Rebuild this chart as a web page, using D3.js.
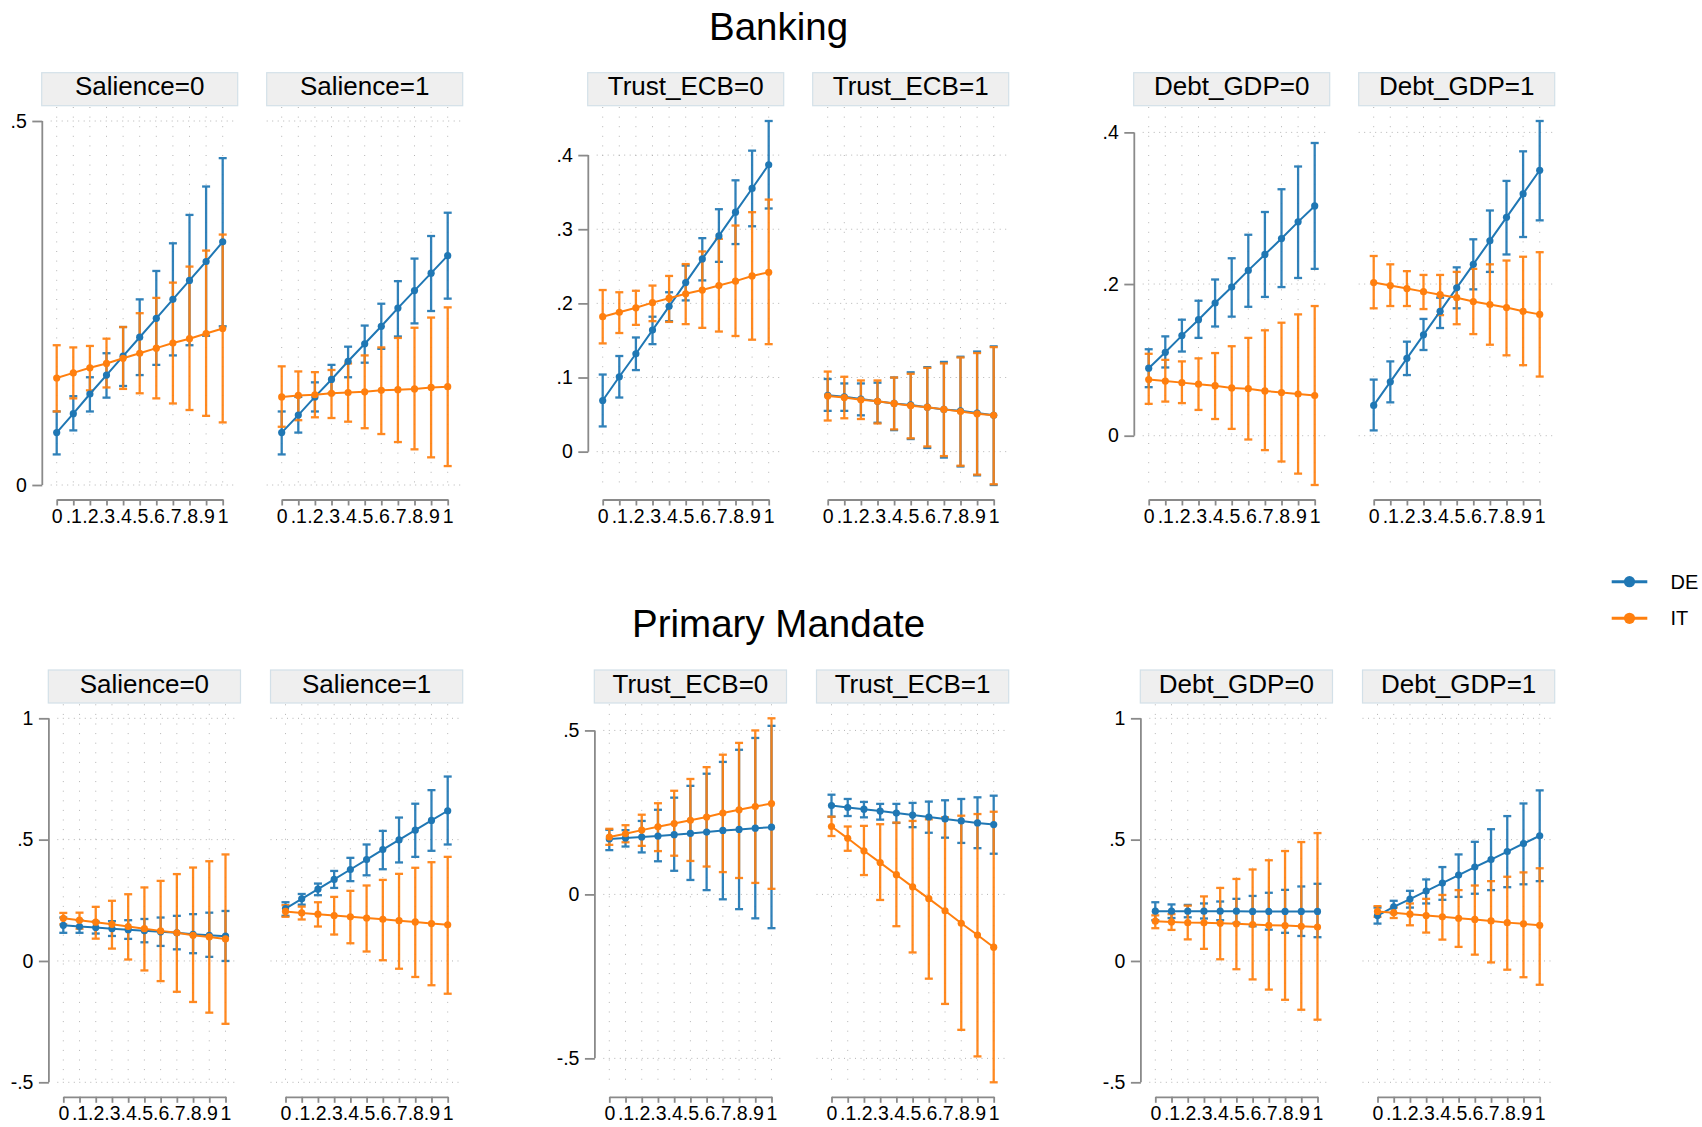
<!DOCTYPE html>
<html>
<head>
<meta charset="utf-8">
<script src="https://cdn.jsdelivr.net/npm/d3@7"></script>
<style>
  body { margin: 0; background: #ffffff; }
  text { font-family: "Liberation Sans", Arial, Helvetica, sans-serif; fill: #000; }
</style>
</head>
<body>
<svg id="chart" width="1702" height="1127"></svg>
<script>
// ---------- categories and tick labels ----------
const xValues = [0, 0.1, 0.2, 0.3, 0.4, 0.5, 0.6, 0.7, 0.8, 0.9, 1];
const xTickLabels = ["0", ".1", ".2", ".3", ".4", ".5", ".6", ".7", ".8", ".9", "1"];
const seriesNames = ["DE", "IT"];
const rowTitles = ["Banking", "Primary Mandate"];
const groupVariables = ["Salience", "Trust_ECB", "Debt_GDP"];
const panelLevels = [0, 1];
const bankingYTicks = [[0, 0.5], [0, 0.1, 0.2, 0.3, 0.4], [0, 0.2, 0.4]];
const mandateYTicks = [[-0.5, 0, 0.5, 1], [-0.5, 0, 0.5], [-0.5, 0, 0.5, 1]];

// ---------- Banking: predicted margins with 95% CIs ----------
// Salience = 0
const bankSal0_DE_est = [0.072, 0.098, 0.125, 0.151, 0.177, 0.203, 0.229, 0.255, 0.281, 0.307, 0.334];
const bankSal0_DE_lo  = [0.042, 0.075, 0.101, 0.120, 0.136, 0.151, 0.165, 0.178, 0.192, 0.205, 0.218];
const bankSal0_DE_hi  = [0.101, 0.122, 0.148, 0.181, 0.217, 0.255, 0.294, 0.332, 0.371, 0.410, 0.449];
const bankSal0_IT_est = [0.147, 0.154, 0.161, 0.167, 0.174, 0.181, 0.188, 0.195, 0.201, 0.208, 0.215];
const bankSal0_IT_lo  = [0.101, 0.119, 0.130, 0.134, 0.132, 0.126, 0.119, 0.112, 0.103, 0.095, 0.086];
const bankSal0_IT_hi  = [0.192, 0.189, 0.191, 0.201, 0.217, 0.236, 0.257, 0.278, 0.300, 0.322, 0.344];
// Salience = 1
const bankSal1_DE_est = [0.072, 0.096, 0.121, 0.145, 0.170, 0.194, 0.218, 0.243, 0.267, 0.291, 0.315];
const bankSal1_DE_lo  = [0.042, 0.072, 0.101, 0.126, 0.148, 0.168, 0.187, 0.204, 0.222, 0.239, 0.256];
const bankSal1_DE_hi  = [0.101, 0.121, 0.141, 0.165, 0.190, 0.219, 0.249, 0.280, 0.311, 0.342, 0.374];
const bankSal1_IT_est = [0.121, 0.123, 0.124, 0.126, 0.127, 0.128, 0.130, 0.131, 0.132, 0.134, 0.135];
const bankSal1_IT_lo  = [0.080, 0.089, 0.093, 0.092, 0.087, 0.078, 0.070, 0.059, 0.049, 0.038, 0.026];
const bankSal1_IT_hi  = [0.163, 0.156, 0.155, 0.158, 0.167, 0.178, 0.189, 0.202, 0.216, 0.230, 0.244];
// Trust_ECB = 0
const bankTru0_DE_est = [0.069, 0.101, 0.132, 0.164, 0.196, 0.228, 0.260, 0.291, 0.323, 0.355, 0.387];
const bankTru0_DE_lo  = [0.034, 0.073, 0.110, 0.145, 0.176, 0.204, 0.231, 0.256, 0.280, 0.304, 0.328];
const bankTru0_DE_hi  = [0.104, 0.129, 0.154, 0.182, 0.215, 0.251, 0.288, 0.327, 0.366, 0.406, 0.446];
const bankTru0_IT_est = [0.182, 0.188, 0.194, 0.201, 0.207, 0.213, 0.218, 0.224, 0.230, 0.237, 0.242];
const bankTru0_IT_lo  = [0.146, 0.160, 0.171, 0.176, 0.175, 0.172, 0.167, 0.162, 0.156, 0.151, 0.145];
const bankTru0_IT_hi  = [0.218, 0.215, 0.217, 0.224, 0.237, 0.253, 0.270, 0.287, 0.305, 0.323, 0.340];
// Trust_ECB = 1
const bankTru1_DE_est = [0.076, 0.074, 0.071, 0.068, 0.065, 0.063, 0.060, 0.057, 0.055, 0.052, 0.049];
const bankTru1_DE_lo  = [0.055, 0.055, 0.049, 0.039, 0.029, 0.017, 0.005, -0.008, -0.020, -0.032, -0.045];
const bankTru1_DE_hi  = [0.098, 0.092, 0.092, 0.093, 0.100, 0.107, 0.114, 0.121, 0.128, 0.135, 0.142];
const bankTru1_IT_est = [0.075, 0.073, 0.070, 0.068, 0.065, 0.062, 0.060, 0.057, 0.054, 0.051, 0.049];
const bankTru1_IT_lo  = [0.042, 0.045, 0.044, 0.038, 0.030, 0.018, 0.007, -0.006, -0.019, -0.031, -0.044];
const bankTru1_IT_hi  = [0.108, 0.101, 0.096, 0.096, 0.100, 0.105, 0.113, 0.119, 0.127, 0.133, 0.141];
// Debt_GDP = 0
const bankDebt0_DE_est = [0.089, 0.110, 0.132, 0.153, 0.175, 0.196, 0.218, 0.239, 0.260, 0.282, 0.303];
const bankDebt0_DE_lo  = [0.064, 0.090, 0.111, 0.129, 0.144, 0.157, 0.170, 0.183, 0.196, 0.208, 0.220];
const bankDebt0_DE_hi  = [0.114, 0.131, 0.153, 0.178, 0.206, 0.234, 0.265, 0.295, 0.325, 0.355, 0.386];
const bankDebt0_IT_est = [0.074, 0.072, 0.070, 0.068, 0.066, 0.063, 0.062, 0.059, 0.057, 0.055, 0.053];
const bankDebt0_IT_lo  = [0.042, 0.045, 0.043, 0.034, 0.022, 0.009, -0.005, -0.019, -0.034, -0.050, -0.065];
const bankDebt0_IT_hi  = [0.108, 0.100, 0.098, 0.102, 0.109, 0.118, 0.129, 0.139, 0.149, 0.160, 0.171];
// Debt_GDP = 1
const bankDebt1_DE_est = [0.040, 0.071, 0.102, 0.133, 0.164, 0.195, 0.226, 0.257, 0.288, 0.319, 0.350];
const bankDebt1_DE_lo  = [0.007, 0.044, 0.080, 0.113, 0.142, 0.168, 0.193, 0.216, 0.239, 0.262, 0.284];
const bankDebt1_DE_hi  = [0.074, 0.098, 0.124, 0.154, 0.182, 0.222, 0.259, 0.297, 0.336, 0.375, 0.415];
const bankDebt1_IT_est = [0.202, 0.198, 0.194, 0.190, 0.186, 0.182, 0.177, 0.173, 0.169, 0.164, 0.160];
const bankDebt1_IT_lo  = [0.168, 0.171, 0.171, 0.167, 0.159, 0.147, 0.134, 0.120, 0.106, 0.093, 0.078];
const bankDebt1_IT_hi  = [0.237, 0.226, 0.217, 0.212, 0.212, 0.216, 0.220, 0.226, 0.231, 0.236, 0.242];

// ---------- Primary Mandate: predicted margins with 95% CIs ----------
// Salience = 0
const mandSal0_DE_est = [0.147, 0.142, 0.138, 0.133, 0.129, 0.125, 0.120, 0.116, 0.110, 0.106, 0.102];
const mandSal0_DE_lo  = [0.116, 0.116, 0.113, 0.103, 0.091, 0.077, 0.062, 0.048, 0.032, 0.017, 0.000];
const mandSal0_DE_hi  = [0.179, 0.168, 0.162, 0.164, 0.168, 0.173, 0.179, 0.186, 0.193, 0.199, 0.206];
const mandSal0_IT_est = [0.176, 0.168, 0.160, 0.151, 0.142, 0.133, 0.124, 0.116, 0.106, 0.099, 0.091];
const mandSal0_IT_lo  = [0.151, 0.133, 0.092, 0.051, 0.006, -0.039, -0.083, -0.127, -0.169, -0.213, -0.259];
const mandSal0_IT_hi  = [0.198, 0.199, 0.223, 0.248, 0.275, 0.303, 0.330, 0.358, 0.385, 0.411, 0.439];
// Salience = 1
const mandSal1_DE_est = [0.216, 0.256, 0.296, 0.336, 0.377, 0.418, 0.459, 0.499, 0.539, 0.579, 0.619];
const mandSal1_DE_lo  = [0.186, 0.232, 0.271, 0.301, 0.329, 0.353, 0.378, 0.406, 0.429, 0.454, 0.480];
const mandSal1_DE_hi  = [0.242, 0.276, 0.319, 0.371, 0.425, 0.480, 0.536, 0.591, 0.648, 0.704, 0.760];
const mandSal1_IT_est = [0.204, 0.198, 0.193, 0.187, 0.182, 0.177, 0.172, 0.166, 0.161, 0.154, 0.149];
const mandSal1_IT_lo  = [0.182, 0.171, 0.142, 0.109, 0.073, 0.039, 0.003, -0.032, -0.066, -0.100, -0.135];
const mandSal1_IT_hi  = [0.230, 0.224, 0.242, 0.264, 0.289, 0.311, 0.334, 0.359, 0.384, 0.407, 0.429];
// Trust_ECB = 0
const mandTru0_DE_est = [0.169, 0.172, 0.175, 0.178, 0.182, 0.186, 0.190, 0.195, 0.198, 0.202, 0.205];
const mandTru0_DE_lo  = [0.135, 0.146, 0.128, 0.101, 0.072, 0.044, 0.013, -0.015, -0.045, -0.073, -0.103];
const mandTru0_DE_hi  = [0.197, 0.196, 0.224, 0.258, 0.295, 0.331, 0.368, 0.404, 0.441, 0.477, 0.514];
const mandTru0_IT_est = [0.175, 0.185, 0.196, 0.206, 0.216, 0.226, 0.236, 0.248, 0.258, 0.268, 0.277];
const mandTru0_IT_lo  = [0.151, 0.159, 0.148, 0.132, 0.118, 0.102, 0.085, 0.068, 0.050, 0.035, 0.017];
const mandTru0_IT_hi  = [0.200, 0.211, 0.243, 0.278, 0.316, 0.352, 0.388, 0.426, 0.462, 0.500, 0.537];
// Trust_ECB = 1
const mandTru1_DE_est = [0.271, 0.265, 0.260, 0.254, 0.248, 0.242, 0.236, 0.230, 0.224, 0.218, 0.213];
const mandTru1_DE_lo  = [0.237, 0.239, 0.235, 0.228, 0.218, 0.205, 0.188, 0.173, 0.157, 0.141, 0.124];
const mandTru1_DE_hi  = [0.304, 0.291, 0.282, 0.276, 0.276, 0.279, 0.283, 0.287, 0.291, 0.296, 0.301];
const mandTru1_IT_est = [0.207, 0.171, 0.133, 0.097, 0.060, 0.023, -0.013, -0.050, -0.088, -0.124, -0.161];
const mandTru1_IT_lo  = [0.178, 0.133, 0.059, -0.017, -0.097, -0.177, -0.257, -0.334, -0.413, -0.494, -0.573];
const mandTru1_IT_hi  = [0.237, 0.207, 0.209, 0.214, 0.219, 0.224, 0.229, 0.235, 0.240, 0.245, 0.252];
// Debt_GDP = 0
const mandDebt0_DE_est = [0.205, 0.205, 0.205, 0.205, 0.205, 0.205, 0.204, 0.204, 0.204, 0.204, 0.204];
const mandDebt0_DE_lo  = [0.168, 0.177, 0.180, 0.175, 0.168, 0.157, 0.143, 0.129, 0.116, 0.103, 0.098];
const mandDebt0_DE_hi  = [0.242, 0.233, 0.231, 0.237, 0.245, 0.256, 0.268, 0.281, 0.293, 0.307, 0.318];
const mandDebt0_IT_est = [0.164, 0.161, 0.158, 0.157, 0.155, 0.153, 0.150, 0.147, 0.146, 0.143, 0.140];
const mandDebt0_IT_lo  = [0.135, 0.128, 0.089, 0.050, 0.007, -0.034, -0.076, -0.118, -0.160, -0.201, -0.242];
const mandDebt0_IT_hi  = [0.188, 0.193, 0.228, 0.266, 0.301, 0.338, 0.377, 0.415, 0.453, 0.490, 0.527];
// Debt_GDP = 1
const mandDebt1_DE_est = [0.187, 0.223, 0.255, 0.288, 0.321, 0.354, 0.387, 0.418, 0.451, 0.484, 0.516];
const mandDebt1_DE_lo  = [0.154, 0.197, 0.220, 0.237, 0.252, 0.264, 0.277, 0.292, 0.304, 0.316, 0.329];
const mandDebt1_DE_hi  = [0.220, 0.248, 0.289, 0.336, 0.387, 0.439, 0.491, 0.543, 0.597, 0.649, 0.703];
const mandDebt1_IT_est = [0.204, 0.199, 0.193, 0.187, 0.182, 0.176, 0.171, 0.165, 0.158, 0.153, 0.147];
const mandDebt1_IT_lo  = [0.182, 0.177, 0.147, 0.117, 0.088, 0.058, 0.026, -0.006, -0.036, -0.067, -0.098];
const mandDebt1_IT_hi  = [0.226, 0.220, 0.237, 0.256, 0.272, 0.292, 0.311, 0.329, 0.347, 0.365, 0.382];

// ---------- assemble panels: [row][group][level] -> series of points ----------
function seriesOf(est, lo, hi) {
  return xValues.map((x, i) => ({ x: x, est: est[i], lo: lo[i], hi: hi[i] }));
}
const panelSeries = [
  [
    [[seriesOf(bankSal0_DE_est, bankSal0_DE_lo, bankSal0_DE_hi), seriesOf(bankSal0_IT_est, bankSal0_IT_lo, bankSal0_IT_hi)],
     [seriesOf(bankSal1_DE_est, bankSal1_DE_lo, bankSal1_DE_hi), seriesOf(bankSal1_IT_est, bankSal1_IT_lo, bankSal1_IT_hi)]],
    [[seriesOf(bankTru0_DE_est, bankTru0_DE_lo, bankTru0_DE_hi), seriesOf(bankTru0_IT_est, bankTru0_IT_lo, bankTru0_IT_hi)],
     [seriesOf(bankTru1_DE_est, bankTru1_DE_lo, bankTru1_DE_hi), seriesOf(bankTru1_IT_est, bankTru1_IT_lo, bankTru1_IT_hi)]],
    [[seriesOf(bankDebt0_DE_est, bankDebt0_DE_lo, bankDebt0_DE_hi), seriesOf(bankDebt0_IT_est, bankDebt0_IT_lo, bankDebt0_IT_hi)],
     [seriesOf(bankDebt1_DE_est, bankDebt1_DE_lo, bankDebt1_DE_hi), seriesOf(bankDebt1_IT_est, bankDebt1_IT_lo, bankDebt1_IT_hi)]]
  ],
  [
    [[seriesOf(mandSal0_DE_est, mandSal0_DE_lo, mandSal0_DE_hi), seriesOf(mandSal0_IT_est, mandSal0_IT_lo, mandSal0_IT_hi)],
     [seriesOf(mandSal1_DE_est, mandSal1_DE_lo, mandSal1_DE_hi), seriesOf(mandSal1_IT_est, mandSal1_IT_lo, mandSal1_IT_hi)]],
    [[seriesOf(mandTru0_DE_est, mandTru0_DE_lo, mandTru0_DE_hi), seriesOf(mandTru0_IT_est, mandTru0_IT_lo, mandTru0_IT_hi)],
     [seriesOf(mandTru1_DE_est, mandTru1_DE_lo, mandTru1_DE_hi), seriesOf(mandTru1_IT_est, mandTru1_IT_lo, mandTru1_IT_hi)]],
    [[seriesOf(mandDebt0_DE_est, mandDebt0_DE_lo, mandDebt0_DE_hi), seriesOf(mandDebt0_IT_est, mandDebt0_IT_lo, mandDebt0_IT_hi)],
     [seriesOf(mandDebt1_DE_est, mandDebt1_DE_lo, mandDebt1_DE_hi), seriesOf(mandDebt1_IT_est, mandDebt1_IT_lo, mandDebt1_IT_hi)]]
  ]
];
const rowYTicks = [bankingYTicks, mandateYTicks];

// ---------- styling and layout ----------
const colors = ["#1f77b4", "#ff7f0e"];
const axisColor = "#8a8a8a";
const gridColor = "#b4b4b4";
const rowOffset = [0, 597.3];
const groupOffset = [0, 546, 1092];
const firstPanelLeft = [41.7, 48.3];
const panelRight = 462.7;
const panelGap = [29, 30];
const stripTop = 72.7, stripH = 33;
const dataTop = 121, dataBottom = 485;
const vGridTop = 107, vGridBottom = 490;
const xPad = 15;
const xAxisY = 499.5;
const titleCenterX = 778.6, titleBaseline = 39.5;
const tickFont = "19.5px";

const fmtY = v => String(v).replace(/^(-?)0\./, "$1.");

const svg = d3.select("#chart");

rowTitles.forEach((title, r) => {
  const oy = rowOffset[r];
  svg.append("text")
    .attr("x", titleCenterX).attr("y", oy + titleBaseline)
    .attr("text-anchor", "middle")
    .style("font-size", "38.5px")
    .text(title);

  groupVariables.forEach((gv, g) => {
    const ticks = rowYTicks[r][g];
    // the two panels of a group share one y scale spanning their CIs and ticks
    const groupVals = [];
    panelLevels.forEach((lv, l) => panelSeries[r][g][l].forEach(s => s.forEach(d => groupVals.push(d.lo, d.hi))));
    const yScale = d3.scaleLinear()
      .domain(d3.extent(groupVals.concat(ticks)))
      .range([oy + dataBottom, oy + dataTop]);

    const pw = (panelRight - firstPanelLeft[r] - panelGap[r]) / 2;

    panelLevels.forEach((lv, l) => {
      const x0 = groupOffset[g] + firstPanelLeft[r] + l * (pw + panelGap[r]);
      const xScale = d3.scaleLinear().domain([0, 1]).range([x0 + xPad, x0 + pw - xPad]);
      const panel = svg.append("g");

      // strip header
      panel.append("rect")
        .attr("x", x0).attr("y", oy + stripTop)
        .attr("width", pw).attr("height", stripH)
        .attr("fill", "#efefef").attr("stroke", "#d3e0e8").attr("stroke-width", 1.2);
      panel.append("text")
        .attr("x", x0 + pw / 2).attr("y", oy + stripTop + 22.6)
        .attr("text-anchor", "middle")
        .style("font-size", "26px")
        .text(gv + "=" + lv);

      // dotted grid
      panel.append("g").selectAll("line").data(xValues).join("line")
        .attr("x1", d => xScale(d)).attr("x2", d => xScale(d))
        .attr("y1", oy + vGridTop).attr("y2", oy + vGridBottom)
        .attr("stroke", gridColor).attr("stroke-width", 1)
        .attr("stroke-dasharray", "1,8.6");
      panel.append("g").selectAll("line").data(ticks).join("line")
        .attr("x1", x0 + (l === 0 ? 9 : 0)).attr("x2", x0 + pw - 2)
        .attr("y1", d => yScale(d)).attr("y2", d => yScale(d))
        .attr("stroke", gridColor).attr("stroke-width", 1)
        .attr("stroke-dasharray", "1,4.5");

      // y axis on the first panel of each group
      if (l === 0) {
        const ax = x0 + 0.6;
        const yAxis = panel.append("g")
          .attr("transform", `translate(${ax},0)`)
          .call(d3.axisLeft(yScale).tickValues(ticks).tickSize(10).tickPadding(5.5).tickFormat(fmtY));
        yAxis.select(".domain").remove();
        yAxis.selectAll(".tick line").attr("stroke", axisColor).attr("stroke-width", 1.8);
        yAxis.selectAll(".tick text")
          .style("font-size", tickFont).style("font-family", "'Liberation Sans', Arial, sans-serif")
          .attr("fill", "#000");
        panel.append("line")
          .attr("x1", ax).attr("x2", ax)
          .attr("y1", yScale(d3.min(ticks))).attr("y2", yScale(d3.max(ticks)))
          .attr("stroke", axisColor).attr("stroke-width", 1.8);
      }

      // x axis
      const xAxis = panel.append("g")
        .attr("transform", `translate(0,${oy + xAxisY})`)
        .call(d3.axisBottom(xScale).tickValues(xValues).tickSize(6).tickSizeOuter(0).tickPadding(3.5)
          .tickFormat((d, i) => xTickLabels[i]));
      xAxis.select(".domain").attr("stroke", axisColor).attr("stroke-width", 1.8);
      xAxis.selectAll(".tick line").attr("stroke", axisColor).attr("stroke-width", 1.8);
      xAxis.selectAll(".tick text")
        .style("font-size", tickFont).style("font-family", "'Liberation Sans', Arial, sans-serif")
        .attr("fill", "#000");

      const seriesList = panelSeries[r][g][l];

      // confidence intervals (capped spikes)
      seriesList.forEach((s, si) => {
        const ci = panel.append("g").attr("stroke", colors[si]).attr("stroke-width", 2.3).attr("opacity", 0.92);
        ci.selectAll("line.v").data(s).join("line").attr("class", "v")
          .attr("x1", d => xScale(d.x)).attr("x2", d => xScale(d.x))
          .attr("y1", d => yScale(d.lo)).attr("y2", d => yScale(d.hi));
        ci.selectAll("line.lo").data(s).join("line").attr("class", "lo")
          .attr("x1", d => xScale(d.x) - 4).attr("x2", d => xScale(d.x) + 4)
          .attr("y1", d => yScale(d.lo)).attr("y2", d => yScale(d.lo));
        ci.selectAll("line.hi").data(s).join("line").attr("class", "hi")
          .attr("x1", d => xScale(d.x) - 4).attr("x2", d => xScale(d.x) + 4)
          .attr("y1", d => yScale(d.hi)).attr("y2", d => yScale(d.hi));
      });

      // connected estimates
      seriesList.forEach((s, si) => {
        panel.append("path").datum(s)
          .attr("fill", "none").attr("stroke", colors[si]).attr("stroke-width", 2)
          .attr("d", d3.line().x(d => xScale(d.x)).y(d => yScale(d.est)));
        panel.append("g").selectAll("circle").data(s).join("circle")
          .attr("cx", d => xScale(d.x)).attr("cy", d => yScale(d.est))
          .attr("r", 3.6).attr("fill", colors[si]);
      });
    });
  });
});

// legend
const legend = svg.append("g");
seriesNames.forEach((name, i) => {
  const ly = 581.7 + i * 36.6;
  legend.append("line")
    .attr("x1", 1611.7).attr("x2", 1647.3).attr("y1", ly).attr("y2", ly)
    .attr("stroke", colors[i]).attr("stroke-width", 3);
  legend.append("circle")
    .attr("cx", 1629.5).attr("cy", ly).attr("r", 5.6).attr("fill", colors[i]);
  legend.append("text")
    .attr("x", 1670.5).attr("y", ly).attr("dy", "0.35em")
    .style("font-size", "20px")
    .text(name);
});
</script>
</body>
</html>
